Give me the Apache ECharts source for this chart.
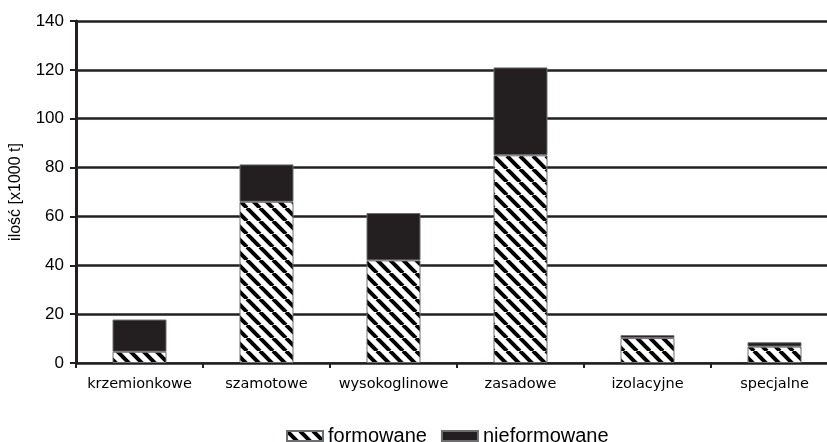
<!DOCTYPE html>
<html>
<head>
<meta charset="utf-8">
<script src="https://cdn.jsdelivr.net/npm/echarts@6/dist/echarts.min.js"></script>
<style>
  html, body { margin: 0; padding: 0; background: #fff; }
  #chart { width: 827px; height: 442px; }
</style>
</head>
<body>
<div id="chart"></div>
<script>
var categories = ['krzemionkowe', 'szamotowe', 'wysokoglinowe', 'zasadowe', 'izolacyjne', 'specjalne'];
var formowane = [4.6, 66, 42, 85, 10.2, 6.7];
var nieformowane = [13.2, 15.3, 19.4, 36, 1.2, 1.8];
var seriesNames = ['formowane', 'nieformowane'];
var yTicks = [0, 20, 40, 60, 80, 100, 120, 140];

// ukośne kreskowanie "\"
var hatch = document.createElement('canvas');
var s = 13;
hatch.width = s;
hatch.height = s;
var ctx = hatch.getContext('2d');
ctx.fillStyle = '#fff';
ctx.fillRect(0, 0, s, s);
ctx.strokeStyle = '#000';
ctx.lineWidth = 4;
for (var k = -1; k <= 1; k++) {
  ctx.beginPath();
  ctx.moveTo(k * s, 0);
  ctx.lineTo(k * s + s, s);
  ctx.stroke();
}

var chart = echarts.init(document.getElementById('chart'));

var option = {
  animation: false,
  backgroundColor: '#fff',
  grid: {
    left: 76,
    top: 21,
    right: -11,
    bottom: 79,
    outerBoundsMode: 'none'
  },
  legend: {
    top: 421,
    left: 281,
    icon: 'rect',
    itemWidth: 36,
    itemHeight: 10,
    itemGap: 14,
    textStyle: {
      fontFamily: 'Liberation Sans',
      fontSize: 20,
      color: '#000'
    },
    data: seriesNames
  },
  xAxis: {
    type: 'category',
    data: categories,
    axisLine: {
      lineStyle: { color: '#231f20', width: 1.5 }
    },
    axisTick: {
      show: true,
      interval: 0,
      length: 5,
      lineStyle: { color: '#231f20', width: 2 }
    },
    axisLabel: {
      interval: 0,
      margin: 14,
      fontFamily: 'DejaVu Sans',
      fontSize: 14.5,
      color: '#000'
    }
  },
  yAxis: {
    type: 'value',
    min: 0,
    max: 140,
    interval: 20,
    name: 'ilość [x1000 t]',
    nameLocation: 'middle',
    nameGap: 52,
    nameRotate: 90,
    nameTextStyle: {
      fontFamily: 'Liberation Sans',
      fontSize: 16,
      color: '#000'
    },
    axisLine: {
      show: true,
      lineStyle: { color: '#231f20', width: 3 }
    },
    axisTick: {
      show: true,
      length: 6,
      lineStyle: { color: '#231f20', width: 2 }
    },
    axisLabel: {
      margin: 12,
      fontFamily: 'Liberation Sans',
      fontSize: 17,
      color: '#000',
      formatter: function (v) { return yTicks.indexOf(v) >= 0 ? String(v) : ''; }
    },
    splitLine: {
      show: true,
      lineStyle: { color: '#231f20', width: 2.5 }
    }
  },
  series: [
    {
      name: seriesNames[0],
      type: 'bar',
      stack: 'razem',
      barWidth: 54,
      data: formowane,
      itemStyle: {
        color: { image: hatch, repeat: 'repeat' },
        borderColor: '#6d6e71',
        borderWidth: 1
      }
    },
    {
      name: seriesNames[1],
      type: 'bar',
      stack: 'razem',
      barWidth: 54,
      data: nieformowane,
      itemStyle: {
        color: '#231f20',
        borderColor: '#6d6e71',
        borderWidth: 1
      }
    }
  ]
};

chart.setOption(option);
</script>
</body>
</html>
